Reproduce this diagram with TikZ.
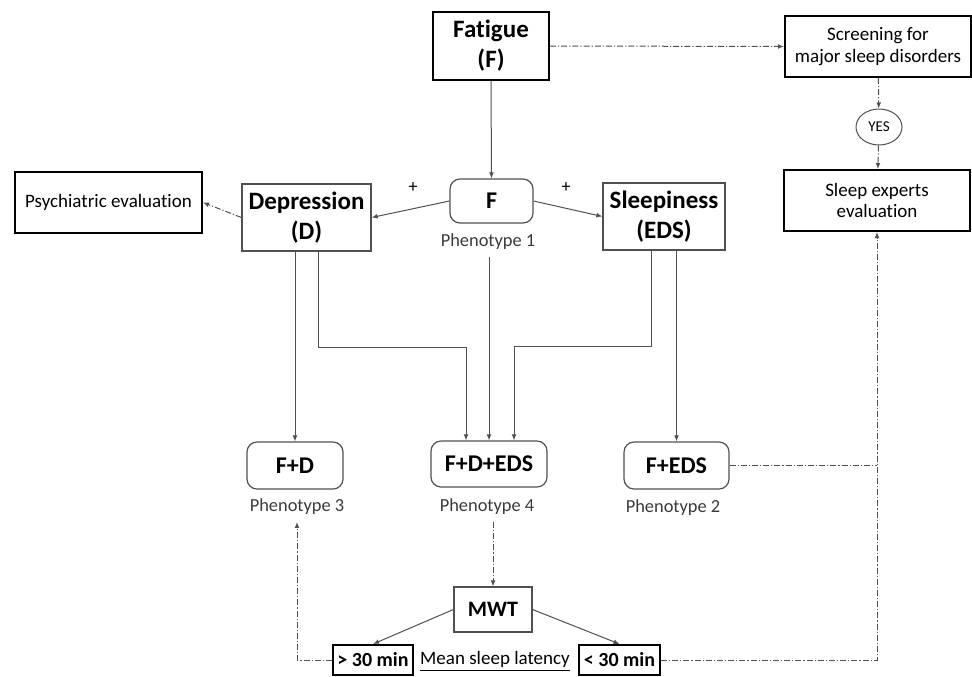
\documentclass[tikz,border=0pt]{standalone}
\usepackage{fontspec}
\setmainfont{Carlito}[Ligatures=NoCommon]
\usetikzlibrary{arrows.meta,positioning,shapes,calc}
\definecolor{line}{HTML}{505050}
\definecolor{txt}{HTML}{3A3A3A}

\begin{document}
\begin{tikzpicture}[x=0.5pt,y=-0.5pt,
    hbox/.style={draw=black,line width=1pt,align=center,inner sep=1pt,font=\fontsize{9.5}{10.8}\selectfont},
    cbox/.style={draw=line,line width=0.6pt,align=center,inner sep=1pt,font=\fontsize{12.5}{15}\selectfont\bfseries},
    rbox/.style={draw=line,line width=0.6pt,rounded corners=5pt,inner sep=1pt,font=\fontsize{12}{14}\selectfont\bfseries},
    lab/.style={font=\fontsize{9.2}{11}\selectfont,text=txt},
    arr/.style={->,line width=0.5pt,draw=line,>={Latex[length=3pt,width=2.4pt]}},
    dd/.style={arr,dash pattern=on 3pt off 1pt on 0.6pt off 1pt}
]
\useasboundingbox (0,0) rectangle (972,676);
\node[hbox,font=\fontsize{12.5}{15}\selectfont\bfseries,minimum width=58pt,minimum height=34pt] (F) at (491,46) {Fatigue\\(F)};
\node[hbox,minimum width=93pt,minimum height=30.5pt] (SC) at (878,46.5) {Screening for\\major sleep disorders};
\node[draw=line,ellipse,line width=0.5pt,minimum width=23pt,minimum height=18pt,inner sep=0pt,font=\fontsize{7.5}{9}\selectfont] (Y) at (879,127) {YES};
\node[hbox,minimum width=93pt,minimum height=30.5pt] (SE) at (877,200.5) {Sleep experts\\evaluation};
\node[hbox,minimum width=93.5pt,minimum height=30.5pt] (PE) at (108.5,202.5) {Psychiatric evaluation};
\node[cbox,minimum width=64.5pt,minimum height=33.5pt] (D) at (306.5,217.5) {Depression\\(D)};
\node[rbox,minimum width=41.5pt,minimum height=22pt] (P1) at (491.5,201) {F};
\node[cbox,minimum width=61pt,minimum height=33.5pt] (S) at (664,216.5) {Sleepiness\\(EDS)};
\node[rbox,minimum width=48pt,minimum height=23.5pt] (P3) at (295,465.5) {F+D};
\node[rbox,minimum width=58pt,minimum height=23pt] (P4) at (489,464) {F+D+EDS};
\node[rbox,minimum width=52.5pt,minimum height=23.5pt] (P2) at (676.5,465.5) {F+EDS};
\node[cbox,font=\fontsize{11}{13}\selectfont\bfseries,minimum width=39pt,minimum height=22.5pt] (M) at (493,609.5) {MWT};
\node[hbox,font=\fontsize{10}{12}\selectfont\bfseries,minimum width=40pt,minimum height=15pt] (G) at (373,660) {> 30 min};
\node[hbox,font=\fontsize{10}{12}\selectfont\bfseries,minimum width=40.5pt,minimum height=15pt] (L) at (619.5,660) {< 30 min};
\node[lab,font=\fontsize{9.5}{11}\selectfont,text=black] (ML) at (495,661) {\underline{Mean sleep latency}};
\node[lab] (T1) at (488,242) {Phenotype 1};
\node[lab] (T3) at (297,507) {Phenotype 3};
\node[lab] (T4) at (487,507) {Phenotype 4};
\node[lab] (T2) at (673,508) {Phenotype 2};
\node[font=\fontsize{9}{10}\selectfont] (a) at (413,188) {+};
\node[font=\fontsize{9}{10}\selectfont] (b) at (566,188) {+};

\draw[arr] (F.south) -- (P1.north);
\draw[dd] (F.east) -- (SC.west);
\draw[dd] (SC) -- (Y);
\draw[dd] (Y) -- (SE);
\draw[arr] (P1.west) -- (D.east);
\draw[arr] (P1.east) -- (S.west);
\draw[dd] (D.west) -- (PE.east);
\draw[arr] (D.south -| P3.north) -- (P3.north);
\draw[arr] ([xshift=6pt]D.south) -- ++(0,96) -| ([xshift=-11.5pt]P4.north);
\draw[arr] (T1.south -| P4.north) -- (P4.north);
\draw[arr] ([xshift=-6.5pt]S.south) -- ++(0,96) -| ([xshift=12.5pt]P4.north);
\draw[arr] (S.south -| P2.north) -- (P2.north);
\draw[dd] (T4.south -| M.north) -- (M.north);
\draw[arr] (M.west) -- (G.north);
\draw[arr] (M.east) -- (L.north);
\draw[dd] (G.west) -| (T3.south);
\draw[dd] (L.east) -| (SE.south);
\draw[dd,-] (P2.east) -- (P2.east -| SE.south);
\end{tikzpicture}
\end{document}
